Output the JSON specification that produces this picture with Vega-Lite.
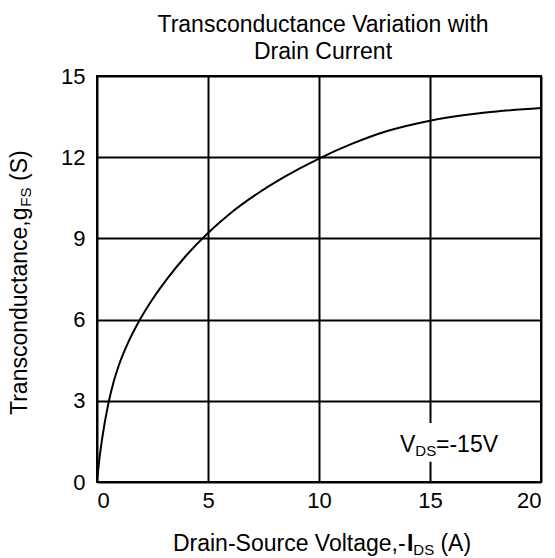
{
  "$schema": "https://vega.github.io/schema/vega-lite/v6.json",
  "width": 444,
  "height": 406,
  "autosize": {"type": "none"},
  "padding": {"left": 97, "top": 76, "right": 14, "bottom": 76},
  "background": "white",
  "title": {
    "text": ["Transconductance Variation with", "Drain Current"],
    "font": "Liberation Sans",
    "fontSize": 23,
    "fontWeight": "normal",
    "color": "black",
    "lineHeight": 27,
    "anchor": "middle",
    "frame": "group",
    "baseline": "bottom",
    "offset": -22,
    "dx": 4
  },
  "config": {
    "view": {"stroke": "black", "strokeWidth": 2},
    "axis": {
      "grid": true,
      "gridColor": "black",
      "gridWidth": 2,
      "gridOpacity": 1,
      "domain": false,
      "ticks": false,
      "labelFont": "Liberation Sans",
      "labelFontSize": 22,
      "labelColor": "black",
      "title": null
    }
  },
  "layer": [
    {
      "data": {
        "values": [
          {"I": 0, "g": 0},
          {"I": 0.1, "g": 0.8},
          {"I": 0.25, "g": 1.7},
          {"I": 0.5, "g": 2.85},
          {"I": 0.75, "g": 3.7},
          {"I": 1.0, "g": 4.35},
          {"I": 1.4, "g": 5.15},
          {"I": 1.9, "g": 5.95},
          {"I": 2.5, "g": 6.75},
          {"I": 3.2, "g": 7.55},
          {"I": 4.0, "g": 8.35},
          {"I": 5.0, "g": 9.2},
          {"I": 6.0, "g": 9.92},
          {"I": 7.2, "g": 10.64},
          {"I": 8.5, "g": 11.3},
          {"I": 10.0, "g": 11.95},
          {"I": 11.5, "g": 12.5},
          {"I": 13.0, "g": 12.95},
          {"I": 15.0, "g": 13.35},
          {"I": 17.5, "g": 13.65},
          {"I": 20.0, "g": 13.82}
        ]
      },
      "mark": {"type": "line", "color": "black", "strokeWidth": 2, "interpolate": "monotone"},
      "encoding": {
        "x": {
          "field": "I",
          "type": "quantitative",
          "scale": {"domain": [0, 20], "nice": false},
          "axis": {"values": [0, 5, 10, 15, 20], "labelPadding": 8, "title": null}
        },
        "y": {
          "field": "g",
          "type": "quantitative",
          "scale": {"domain": [0, 15], "nice": false},
          "axis": {"values": [0, 3, 6, 9, 12, 15], "labelPadding": 12, "title": null}
        }
      }
    },
    {
      "data": {"values": [{}]},
      "layer": [
        {
          "mark": {"type": "rect", "fill": "white"},
          "encoding": {
            "x": {"datum": 13.4},
            "x2": {"datum": 18.4},
            "y": {"datum": 0.75},
            "y2": {"datum": 2.18}
          }
        },
        {
          "mark": {"type": "text", "text": "V", "font": "Liberation Sans", "fontSize": 23, "align": "left", "baseline": "alphabetic", "color": "black"},
          "encoding": {"x": {"datum": 13.65}, "y": {"datum": 1.12}}
        },
        {
          "mark": {"type": "text", "text": "DS", "font": "Liberation Sans", "fontSize": 15, "align": "left", "baseline": "alphabetic", "dy": 4, "color": "black"},
          "encoding": {"x": {"datum": 14.34}, "y": {"datum": 1.12}}
        },
        {
          "mark": {"type": "text", "text": "=-15V", "font": "Liberation Sans", "fontSize": 23, "align": "left", "baseline": "alphabetic", "color": "black"},
          "encoding": {"x": {"datum": 15.27}, "y": {"datum": 1.12}}
        },
        {
          "mark": {"type": "text", "text": "Drain-Source Voltage,-", "font": "Liberation Sans", "fontSize": 23, "align": "left", "baseline": "alphabetic", "color": "black"},
          "encoding": {"x": {"datum": 3.42}, "y": {"datum": -2.55}}
        },
        {
          "mark": {"type": "text", "text": "I", "font": "Liberation Sans", "fontSize": 23, "fontWeight": "bold", "align": "left", "baseline": "alphabetic", "color": "black"},
          "encoding": {"x": {"datum": 13.96}, "y": {"datum": -2.55}}
        },
        {
          "mark": {"type": "text", "text": "DS", "font": "Liberation Sans", "fontSize": 15, "align": "left", "baseline": "alphabetic", "dy": 4, "color": "black"},
          "encoding": {"x": {"datum": 14.25}, "y": {"datum": -2.55}}
        },
        {
          "mark": {"type": "text", "text": "(A)", "font": "Liberation Sans", "fontSize": 23, "align": "left", "baseline": "alphabetic", "color": "black"},
          "encoding": {"x": {"datum": 15.47}, "y": {"datum": -2.55}}
        },
        {
          "mark": {"type": "text", "text": "Transconductance,g", "font": "Liberation Sans", "fontSize": 23, "angle": 270, "align": "left", "baseline": "alphabetic", "color": "black"},
          "encoding": {"x": {"datum": -3.15}, "y": {"datum": 2.475}}
        },
        {
          "mark": {"type": "text", "text": "FS", "font": "Liberation Sans", "fontSize": 15, "angle": 270, "align": "left", "baseline": "alphabetic", "dy": 4, "color": "black"},
          "encoding": {"x": {"datum": -3.15}, "y": {"datum": 10.17}}
        },
        {
          "mark": {"type": "text", "text": "(S)", "font": "Liberation Sans", "fontSize": 23, "angle": 270, "align": "left", "baseline": "alphabetic", "color": "black"},
          "encoding": {"x": {"datum": -3.15}, "y": {"datum": 11.12}}
        }
      ]
    }
  ]
}
